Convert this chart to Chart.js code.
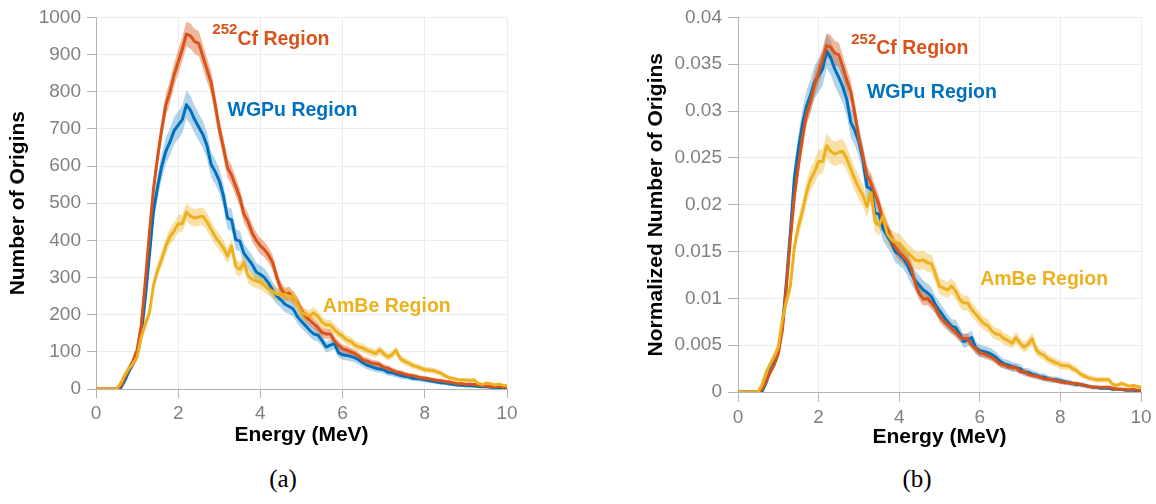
<!DOCTYPE html>
<html>
<head>
<meta charset="utf-8">
<script src="https://cdn.jsdelivr.net/npm/chart.js@4.4.1/dist/chart.umd.min.js"></script>
<style>
  html, body { margin: 0; padding: 0; background: #fff; }
  body { width: 1156px; height: 504px; position: relative; overflow: hidden; }
  .panel { position: absolute; top: 0; }
  #panelA { left: 0; }
  #panelB { left: 640px; }
  .caption {
    position: absolute; top: 464px; line-height: 30px;
    font-family: "Liberation Serif", "DejaVu Serif", serif; font-size: 25px; color: #000;
    transform: translateX(-50%); white-space: nowrap;
  }
</style>
</head>
<body>
<div class="panel" id="panelA"><canvas id="chartA" width="530" height="450"></canvas></div>
<div class="panel" id="panelB"><canvas id="chartB" width="516" height="450"></canvas></div>
<div class="caption" style="left:283px">(a)</div>
<div class="caption" style="left:917px">(b)</div>
<script>
// Energy bins (MeV)
const energyMeV = [
  0.0, 0.1, 0.2, 0.3, 0.4, 0.5, 0.6, 0.7, 0.8, 0.9, 1.0,
  1.1, 1.2, 1.3, 1.4, 1.5, 1.6, 1.7, 1.8, 1.9, 2.0,
  2.1, 2.2, 2.3, 2.4, 2.5, 2.6, 2.7, 2.8, 2.9, 3.0,
  3.1, 3.2, 3.3, 3.4, 3.5, 3.6, 3.7, 3.8, 3.9, 4.0,
  4.1, 4.2, 4.3, 4.4, 4.5, 4.6, 4.7, 4.8, 4.9, 5.0,
  5.1, 5.2, 5.3, 5.4, 5.5, 5.6, 5.7, 5.8, 5.9, 6.0,
  6.1, 6.2, 6.3, 6.4, 6.5, 6.6, 6.7, 6.8, 6.9, 7.0,
  7.1, 7.2, 7.3, 7.4, 7.5, 7.6, 7.7, 7.8, 7.9, 8.0,
  8.1, 8.2, 8.3, 8.4, 8.5, 8.6, 8.7, 8.8, 8.9, 9.0,
  9.1, 9.2, 9.3, 9.4, 9.5, 9.6, 9.7, 9.8, 9.9, 10.0
];

// Number of origins per bin
const cfCounts = [
  0, 0, 0, 0, 0, 0, 8, 30, 55, 75, 105,
  170, 290, 420, 540, 625, 700, 765, 800, 845, 880,
  915, 955, 950, 935, 930, 895, 860, 825, 765, 700,
  650, 595, 575, 545, 515, 470, 450, 420, 400, 385,
  375, 360, 340, 300, 270, 255, 258, 245, 232, 210,
  195, 185, 175, 165, 152, 148, 148, 130, 118, 108,
  105, 100, 95, 88, 78, 75, 70, 68, 66, 58,
  56, 50, 46, 44, 40, 37, 36, 33, 30, 29,
  27, 25, 23, 22, 20, 19, 16, 14, 14, 13,
  13, 12, 10, 9, 8, 7, 6, 7, 5, 5
];
const wgpuCounts = [
  0, 0, 0, 0, 0, 0, 3, 22, 48, 68, 90,
  145, 245, 360, 480, 545, 600, 640, 665, 695, 710,
  725, 765, 750, 725, 705, 685, 655, 605, 585, 560,
  520, 460, 455, 402, 398, 365, 350, 335, 315, 308,
  300, 285, 265, 250, 240, 228, 222, 215, 195, 182,
  170, 158, 148, 145, 130, 113, 118, 122, 98, 92,
  90, 88, 84, 78, 70, 64, 60, 56, 54, 52,
  45, 44, 40, 37, 34, 33, 29, 28, 27, 25,
  23, 21, 19, 17, 16, 14, 12, 11, 10, 9,
  9, 8, 7, 6, 6, 5, 4, 4, 3, 3
];
const ambeCounts = [
  0, 0, 0, 0, 0, 0, 15, 38, 55, 68, 86,
  140, 175, 205, 280, 320, 350, 385, 410, 425, 445,
  445, 476, 465, 460, 463, 465, 450, 430, 410, 395,
  380, 358, 385, 330, 322, 340, 305, 295, 290, 288,
  278, 270, 262, 255, 253, 255, 250, 248, 228, 205,
  200, 197, 205, 195, 180, 172, 172, 160, 150, 142,
  132, 128, 118, 113, 110, 104, 100, 95, 105, 95,
  86, 92, 104, 82, 75, 70, 64, 60, 56, 52,
  51, 50, 46, 42, 35, 30, 28, 25, 24, 24,
  23, 24, 15, 12, 16, 14, 11, 13, 10, 9
];

// Normalized number of origins per bin
const cfNorm = [
  0, 0, 0, 0, 0, 0, 0.0003, 0.0012, 0.0021, 0.0029, 0.0041,
  0.0066, 0.0112, 0.0163, 0.0209, 0.0242, 0.0271, 0.0297, 0.0310, 0.0328, 0.0341,
  0.0355, 0.0370, 0.0368, 0.0362, 0.0360, 0.0347, 0.0333, 0.0320, 0.0297, 0.0271,
  0.0252, 0.0231, 0.0223, 0.0211, 0.0200, 0.0182, 0.0174, 0.0163, 0.0155, 0.0149,
  0.0145, 0.0140, 0.0132, 0.0116, 0.0105, 0.0099, 0.0100, 0.0095, 0.0090, 0.0081,
  0.0076, 0.0072, 0.0068, 0.0064, 0.0059, 0.0057, 0.0057, 0.0050, 0.0046, 0.0042,
  0.0041, 0.0039, 0.0037, 0.0034, 0.0030, 0.0029, 0.0027, 0.0026, 0.0026, 0.0022,
  0.0022, 0.0019, 0.0018, 0.0017, 0.0016, 0.0014, 0.0014, 0.0013, 0.0012, 0.0011,
  0.0010, 0.0010, 0.0009, 0.0009, 0.0008, 0.0007, 0.0006, 0.0005, 0.0005, 0.0005,
  0.0005, 0.0005, 0.0004, 0.0003, 0.0003, 0.0003, 0.0002, 0.0003, 0.0002, 0.0002
];
const wgpuNorm = [
  0, 0, 0, 0, 0, 0, 0.0001, 0.0010, 0.0023, 0.0032, 0.0043,
  0.0069, 0.0117, 0.0171, 0.0229, 0.0260, 0.0286, 0.0305, 0.0317, 0.0331, 0.0338,
  0.0345, 0.0364, 0.0357, 0.0345, 0.0336, 0.0326, 0.0312, 0.0288, 0.0279, 0.0267,
  0.0248, 0.0219, 0.0217, 0.0191, 0.0190, 0.0174, 0.0167, 0.0160, 0.0150, 0.0147,
  0.0143, 0.0136, 0.0126, 0.0119, 0.0114, 0.0109, 0.0106, 0.0102, 0.0093, 0.0087,
  0.0081, 0.0075, 0.0070, 0.0069, 0.0062, 0.0054, 0.0056, 0.0058, 0.0047, 0.0044,
  0.0043, 0.0042, 0.0040, 0.0037, 0.0033, 0.0030, 0.0029, 0.0027, 0.0026, 0.0025,
  0.0021, 0.0021, 0.0019, 0.0018, 0.0016, 0.0016, 0.0014, 0.0013, 0.0013, 0.0012,
  0.0011, 0.0010, 0.0009, 0.0008, 0.0008, 0.0007, 0.0006, 0.0005, 0.0005, 0.0004,
  0.0004, 0.0004, 0.0003, 0.0003, 0.0003, 0.0002, 0.0002, 0.0002, 0.0001, 0.0001
];
const ambeNorm = [
  0, 0, 0, 0, 0, 0, 0.0008, 0.0021, 0.0030, 0.0038, 0.0048,
  0.0077, 0.0097, 0.0113, 0.0155, 0.0177, 0.0193, 0.0213, 0.0227, 0.0235, 0.0246,
  0.0246, 0.0263, 0.0257, 0.0254, 0.0256, 0.0257, 0.0249, 0.0238, 0.0227, 0.0218,
  0.0210, 0.0198, 0.0213, 0.0182, 0.0178, 0.0188, 0.0169, 0.0163, 0.0160, 0.0159,
  0.0154, 0.0149, 0.0145, 0.0141, 0.0140, 0.0141, 0.0138, 0.0137, 0.0126, 0.0113,
  0.0111, 0.0109, 0.0113, 0.0108, 0.0099, 0.0095, 0.0095, 0.0088, 0.0083, 0.0078,
  0.0073, 0.0071, 0.0065, 0.0062, 0.0061, 0.0057, 0.0055, 0.0052, 0.0058, 0.0052,
  0.0048, 0.0051, 0.0057, 0.0045, 0.0041, 0.0039, 0.0035, 0.0033, 0.0031, 0.0029,
  0.0028, 0.0028, 0.0025, 0.0023, 0.0019, 0.0017, 0.0015, 0.0014, 0.0013, 0.0013,
  0.0013, 0.0013, 0.0008, 0.0007, 0.0009, 0.0008, 0.0006, 0.0007, 0.0006, 0.0005
];

// Axis ticks
const energyTicks = [0, 2, 4, 6, 8, 10];
const countTicks = [0, 100, 200, 300, 400, 500, 600, 700, 800, 900, 1000];
const normTicks = [0, 0.005, 0.01, 0.015, 0.02, 0.025, 0.03, 0.035, 0.04];

// Statistical band width, in units of sqrt(N) counting error
const uncertaintyScale = { cf: 1.1, wgpu: 1.4, ambe: 1.1 };

const FONT = '"Liberation Sans", Arial, Helvetica, sans-serif';
const COLORS = {
  cf:   { line: '#D95319', band: 'rgba(217, 83, 25, 0.42)' },
  wgpu: { line: '#0072BD', band: 'rgba(0, 114, 189, 0.30)' },
  ambe: { line: '#EDB120', band: 'rgba(237, 177, 32, 0.40)' }
};
const TICK_GRAY = '#7f7f7f';
const AXIS_GRAY = '#b4b4b4';
const GRID_GRAY = '#ececec';

function points(values) {
  return energyMeV.map((e, i) => ({ x: e, y: values[i] }));
}

// Upper / lower edge of a band, filled between, plus the central line
function seriesDatasets(values, counts, key) {
  const k = uncertaintyScale[key];
  const half = values.map((v, i) => counts[i] > 0 ? k * v / Math.sqrt(counts[i]) : 0);
  const upper = values.map((v, i) => v + half[i]);
  const lower = values.map((v, i) => Math.max(0, v - half[i]));
  const base = { pointRadius: 0, pointHoverRadius: 0, tension: 0 };
  return {
    band: [
      Object.assign({}, base, { data: points(upper), borderWidth: 0, borderColor: 'rgba(0,0,0,0)',
        backgroundColor: COLORS[key].band, fill: '+1' }),
      Object.assign({}, base, { data: points(lower), borderWidth: 0, borderColor: 'rgba(0,0,0,0)', fill: false })
    ],
    line: Object.assign({}, base, { data: points(values), borderColor: COLORS[key].line,
      borderWidth: 3, fill: false, borderJoinStyle: 'round', borderCapStyle: 'round' })
  };
}

// Text labels placed in data coordinates
const regionLabels = {
  id: 'regionLabels',
  afterDatasetsDraw(chart, args, opts) {
    const { ctx } = chart;
    const xs = chart.scales.x, ys = chart.scales.y;
    ctx.save();
    ctx.textBaseline = 'alphabetic';
    for (const item of opts.items) {
      const px = xs.getPixelForValue(item.x);
      const py = ys.getPixelForValue(item.y);
      ctx.fillStyle = item.color;
      if (item.sup) {
        ctx.font = 'bold 15px ' + FONT;
        ctx.textAlign = 'right';
        ctx.fillText(item.sup, px, py - 10.5);
      }
      ctx.font = 'bold 19.5px ' + FONT;
      ctx.textAlign = 'left';
      ctx.fillText(item.text, px, py);
    }
    ctx.restore();
  }
};

function makeChart(canvasId, cfg) {
  const cf = seriesDatasets(cfg.cf, cfg.cfN, 'cf');
  const wg = seriesDatasets(cfg.wgpu, cfg.wgpuN, 'wgpu');
  const am = seriesDatasets(cfg.ambe, cfg.ambeN, 'ambe');
  const tickList = (list) => (scale) => { scale.ticks = list.map(v => ({ value: v })); };
  return new Chart(document.getElementById(canvasId), {
    type: 'line',
    data: {
      datasets: [am.line, cf.line, wg.line, ...am.band, ...cf.band, ...wg.band]
    },
    plugins: [regionLabels],
    options: {
      responsive: false,
      animation: false,
      events: [],
      layout: { padding: cfg.padding },
      plugins: {
        legend: { display: false },
        tooltip: { enabled: false },
        filler: { drawTime: 'beforeDatasetsDraw', propagate: false },
        regionLabels: { items: cfg.labels }
      },
      scales: {
        x: {
          type: 'linear', min: 0, max: 10,
          afterBuildTicks: tickList(energyTicks),
          ticks: { color: TICK_GRAY, font: { family: FONT, size: 19 }, padding: 4,
                   maxRotation: 0, autoSkip: false, callback: v => String(v) },
          grid: { color: GRID_GRAY, tickColor: AXIS_GRAY, tickLength: cfg.tickLen, lineWidth: 1 },
          border: { color: AXIS_GRAY, width: 1 },
          title: { display: true, text: 'Energy (MeV)', color: '#000',
                   font: { family: FONT, size: 21, weight: 'bold' }, padding: { top: 0, bottom: cfg.xTitlePad } },
          afterFit: s => { s.height = cfg.xHeight; }
        },
        y: {
          type: 'linear', min: 0, max: cfg.yMax,
          afterBuildTicks: tickList(cfg.yTicks),
          ticks: { color: TICK_GRAY, font: { family: FONT, size: 19 }, padding: 6,
                   autoSkip: false, callback: v => String(parseFloat(Number(v).toFixed(4))) },
          grid: { color: GRID_GRAY, tickColor: AXIS_GRAY, tickLength: cfg.tickLen, lineWidth: 1 },
          border: { color: AXIS_GRAY, width: 1 },
          title: { display: true, text: cfg.yTitle, color: '#000',
                   font: { family: FONT, size: 21, weight: 'bold' }, padding: { top: cfg.yTitlePad, bottom: 0 } },
          afterFit: s => { s.width = cfg.yWidth; }
        }
      }
    }
  });
}

makeChart('chartA', {
  cf: cfCounts, wgpu: wgpuCounts, ambe: ambeCounts,
  cfN: cfCounts, wgpuN: wgpuCounts, ambeN: ambeCounts,
  yMax: 1000, yTicks: countTicks, yTitle: 'Number of Origins',
  padding: { left: 0, right: 23, top: 13, bottom: 0 },
  yWidth: 96, xHeight: 61, tickLen: 9, yTitlePad: 6, xTitlePad: 2,
  labels: [
    { x: 3.44, y: 927, sup: '252', text: 'Cf Region', color: COLORS.cf.line },
    { x: 3.20, y: 734, text: 'WGPu Region', color: COLORS.wgpu.line },
    { x: 5.52, y: 208, text: 'AmBe Region', color: COLORS.ambe.line }
  ]
});

makeChart('chartB', {
  cf: cfNorm, wgpu: wgpuNorm, ambe: ambeNorm,
  cfN: cfCounts, wgpuN: wgpuCounts, ambeN: ambeCounts,
  yMax: 0.04, yTicks: normTicks, yTitle: 'Normalized Number of Origins',
  padding: { left: 0, right: 15, top: 13, bottom: 0 },
  yWidth: 98, xHeight: 58, tickLen: 10, yTitlePad: 4, xTitlePad: 0,
  labels: [
    { x: 3.43, y: 0.03605, sup: '252', text: 'Cf Region', color: COLORS.cf.line },
    { x: 3.20, y: 0.03144, text: 'WGPu Region', color: COLORS.wgpu.line },
    { x: 6.01, y: 0.01139, text: 'AmBe Region', color: COLORS.ambe.line }
  ]
});
</script>
</body>
</html>
